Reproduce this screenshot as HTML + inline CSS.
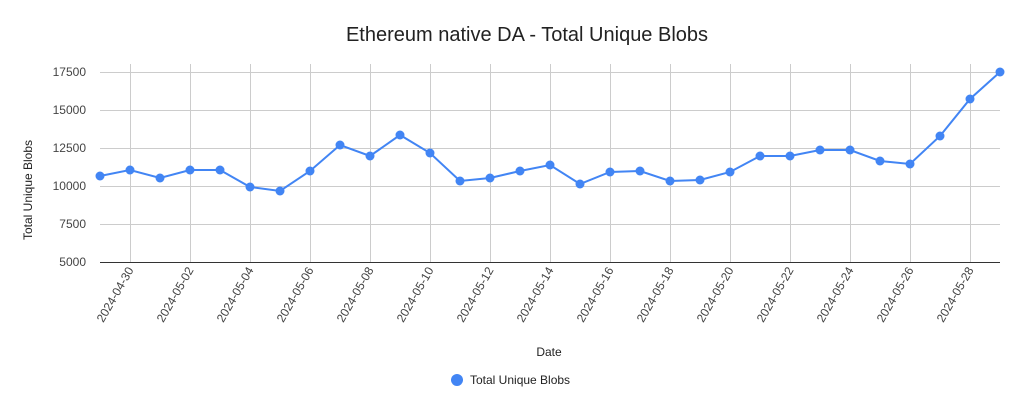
<!DOCTYPE html>
<html><head><style>
body{margin:0;background:#fff;}
svg{display:block;font-family:"Liberation Sans",Arial,sans-serif;}
</style></head><body>
<svg width="1027" height="407" viewBox="0 0 1027 407">
<rect width="1027" height="407" fill="#fff"/>
<text x="527" y="41" text-anchor="middle" font-size="20" fill="#222">Ethereum native DA - Total Unique Blobs</text>
<g stroke="#cccccc" stroke-width="1">
<line x1="100" y1="72.5" x2="1000" y2="72.5"/>
<line x1="100" y1="110.5" x2="1000" y2="110.5"/>
<line x1="100" y1="148.5" x2="1000" y2="148.5"/>
<line x1="100" y1="186.5" x2="1000" y2="186.5"/>
<line x1="100" y1="224.5" x2="1000" y2="224.5"/>
<line x1="130.5" y1="64" x2="130.5" y2="262"/>
<line x1="190.5" y1="64" x2="190.5" y2="262"/>
<line x1="250.5" y1="64" x2="250.5" y2="262"/>
<line x1="310.5" y1="64" x2="310.5" y2="262"/>
<line x1="370.5" y1="64" x2="370.5" y2="262"/>
<line x1="430.5" y1="64" x2="430.5" y2="262"/>
<line x1="490.5" y1="64" x2="490.5" y2="262"/>
<line x1="550.5" y1="64" x2="550.5" y2="262"/>
<line x1="610.5" y1="64" x2="610.5" y2="262"/>
<line x1="670.5" y1="64" x2="670.5" y2="262"/>
<line x1="730.5" y1="64" x2="730.5" y2="262"/>
<line x1="790.5" y1="64" x2="790.5" y2="262"/>
<line x1="850.5" y1="64" x2="850.5" y2="262"/>
<line x1="910.5" y1="64" x2="910.5" y2="262"/>
<line x1="970.5" y1="64" x2="970.5" y2="262"/>
</g>
<line x1="100" y1="262.5" x2="1000" y2="262.5" stroke="#333" stroke-width="1"/>
<g font-size="12" fill="#444" text-anchor="end">
<text x="86" y="76">17500</text>
<text x="86" y="114">15000</text>
<text x="86" y="152">12500</text>
<text x="86" y="190">10000</text>
<text x="86" y="228">7500</text>
<text x="86" y="266">5000</text>
</g>
<text transform="translate(32,190) rotate(-90)" font-size="12" fill="#222" text-anchor="middle">Total Unique Blobs</text>
<g font-size="12" fill="#444" text-anchor="end">
<text transform="translate(134,270) rotate(-60)">2024-04-30</text>
<text transform="translate(194,270) rotate(-60)">2024-05-02</text>
<text transform="translate(254,270) rotate(-60)">2024-05-04</text>
<text transform="translate(314,270) rotate(-60)">2024-05-06</text>
<text transform="translate(374,270) rotate(-60)">2024-05-08</text>
<text transform="translate(434,270) rotate(-60)">2024-05-10</text>
<text transform="translate(494,270) rotate(-60)">2024-05-12</text>
<text transform="translate(554,270) rotate(-60)">2024-05-14</text>
<text transform="translate(614,270) rotate(-60)">2024-05-16</text>
<text transform="translate(674,270) rotate(-60)">2024-05-18</text>
<text transform="translate(734,270) rotate(-60)">2024-05-20</text>
<text transform="translate(794,270) rotate(-60)">2024-05-22</text>
<text transform="translate(854,270) rotate(-60)">2024-05-24</text>
<text transform="translate(914,270) rotate(-60)">2024-05-26</text>
<text transform="translate(974,270) rotate(-60)">2024-05-28</text>
</g>
<text x="549" y="356" font-size="12" fill="#222" text-anchor="middle">Date</text>
<polyline fill="none" stroke="#4285f4" stroke-width="2" points="100,176 130,170 160,178 190,170 220,170 250,187 280,191 310,171 340,145 370,156 400,135 430,153 460,181 490,178 520,171 550,165 580,184 610,172 640,171 670,181 700,180 730,172 760,156 790,156 820,150 850,150 880,161 910,164 940,136 970,99 1000,72"/>
<g fill="#4285f4">
<circle cx="100" cy="176" r="4.5"/><circle cx="130" cy="170" r="4.5"/><circle cx="160" cy="178" r="4.5"/><circle cx="190" cy="170" r="4.5"/><circle cx="220" cy="170" r="4.5"/><circle cx="250" cy="187" r="4.5"/><circle cx="280" cy="191" r="4.5"/><circle cx="310" cy="171" r="4.5"/><circle cx="340" cy="145" r="4.5"/><circle cx="370" cy="156" r="4.5"/><circle cx="400" cy="135" r="4.5"/><circle cx="430" cy="153" r="4.5"/><circle cx="460" cy="181" r="4.5"/><circle cx="490" cy="178" r="4.5"/><circle cx="520" cy="171" r="4.5"/><circle cx="550" cy="165" r="4.5"/><circle cx="580" cy="184" r="4.5"/><circle cx="610" cy="172" r="4.5"/><circle cx="640" cy="171" r="4.5"/><circle cx="670" cy="181" r="4.5"/><circle cx="700" cy="180" r="4.5"/><circle cx="730" cy="172" r="4.5"/><circle cx="760" cy="156" r="4.5"/><circle cx="790" cy="156" r="4.5"/><circle cx="820" cy="150" r="4.5"/><circle cx="850" cy="150" r="4.5"/><circle cx="880" cy="161" r="4.5"/><circle cx="910" cy="164" r="4.5"/><circle cx="940" cy="136" r="4.5"/><circle cx="970" cy="99" r="4.5"/><circle cx="1000" cy="72" r="4.5"/>
<circle cx="457" cy="380" r="6"/>
</g>
<text x="470" y="384" font-size="12" fill="#222">Total Unique Blobs</text>
</svg>
</body></html>
